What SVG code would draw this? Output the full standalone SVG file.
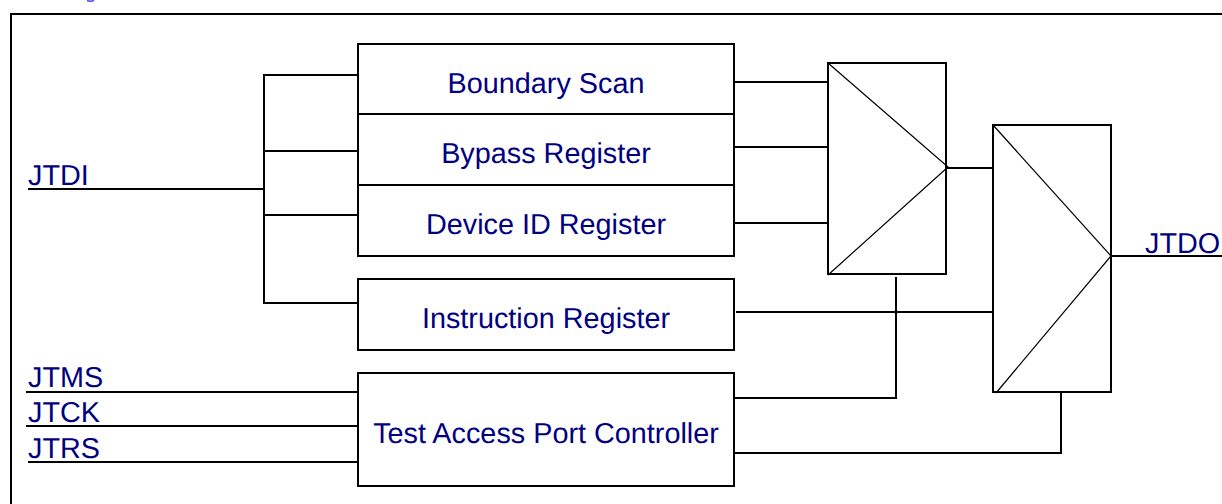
<svg xmlns="http://www.w3.org/2000/svg" width="1222" height="504" viewBox="0 0 1222 504">
<style>
.l{fill:none;stroke:#000;stroke-width:2}
.d{fill:none;stroke:#000;stroke-width:1.2}
.b{fill:#fff;stroke:#000;stroke-width:2}
text{font-family:"Liberation Sans",Arial,sans-serif;font-size:28.800px;fill:#000080;text-rendering:geometricPrecision}
.c{text-anchor:middle}
</style>
<rect width="1222" height="504" fill="#fff"/>
<path d="M87 0.500Q90.500 1.800 94 0.500" fill="none" stroke="#4a4aff" stroke-width="1.500"/>
<path id="frame" class="l" d="M11 504V14H1222"/>
<g id="connectors">
<path class="l" d="M28 189H264M358 75H264V303H358M264 151H358M264 215H358"/>
<path class="l" d="M734 82H828M734 147H828M733 223H828"/>
<path class="l" d="M946 168H993M736 312H993"/>
<path class="l" d="M734 398H896V277M734 453H1061V392"/>
<path class="l" d="M26 392H358M26 426H358M28 462H358"/>
<path class="l" d="M1111 256H1222"/>
</g>
<g id="boundary-scan"><rect class="b" x="358" y="44" width="376" height="70"/><text class="c" x="546" y="93">Boundary Scan</text></g>
<g id="bypass-register"><rect class="b" x="358" y="114" width="376" height="71"/><text class="c" x="546" y="163">Bypass Register</text></g>
<g id="device-id-register"><rect class="b" x="358" y="185" width="376" height="71"/><text class="c" x="546" y="234">Device ID Register</text></g>
<g id="instruction-register"><rect class="b" x="358" y="279" width="376" height="71"/><text class="c" x="546" y="328">Instruction Register</text></g>
<g id="tap-controller"><rect class="b" x="358" y="373" width="376" height="113"/><text class="c" x="546" y="443">Test Access Port Controller</text></g>
<g id="mux-1"><rect class="l" x="828" y="63" width="118" height="211"/><path class="d" d="M828 63L948 167L828 275"/></g>
<g id="mux-2"><rect class="l" x="993" y="125" width="118" height="267"/><path class="d" d="M993 125L1111 256L996 393"/></g>
<g id="jtdi"><text x="28" y="185">JTDI</text></g>
<g id="jtms"><text x="28" y="387">JTMS</text></g>
<g id="jtck"><text x="28" y="422">JTCK</text></g>
<g id="jtrs"><text x="28" y="458">JTRS</text></g>
<g id="jtdo"><text x="1145" y="253">JTDO</text></g>
</svg>
